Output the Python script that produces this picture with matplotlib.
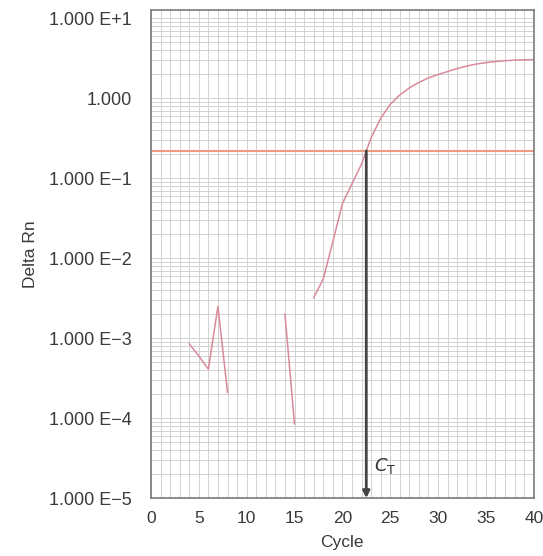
import matplotlib
matplotlib.use("Agg")
import matplotlib.pyplot as plt
from matplotlib.ticker import FixedLocator, LogLocator, NullFormatter

plt.rcParams['font.family'] = ['Liberation Sans', 'DejaVu Sans']

# Data
seg1_cycles = [4, 5, 6, 7, 8]
seg1_values = [8.5e-4, 6.0e-4, 4.1e-4, 2.5e-3, 2.1e-4]
seg2_cycles = [14, 15]
seg2_values = [2.0e-3, 8.5e-5]
seg3_cycles = [17, 18, 19, 20, 21, 22, 23, 24, 25, 26, 27, 28, 29, 30, 31, 32, 33, 34, 35, 36, 37, 38, 39, 40]
seg3_values = [3.2e-3, 5.5e-3, 0.016, 0.048, 0.085, 0.15, 0.32, 0.56, 0.84, 1.1, 1.35, 1.58, 1.8, 1.98, 2.16, 2.36, 2.53, 2.68, 2.79, 2.88, 2.95, 3.0, 3.03, 3.05]
threshold = 0.22
ct_cycle = 22.5
x_ticks = [0, 5, 10, 15, 20, 25, 30, 35, 40]
y_ticks = [1e1, 1e0, 1e-1, 1e-2, 1e-3, 1e-4, 1e-5]
y_tick_labels = ["1.000 E+1", "1.000", "1.000 E\u22121", "1.000 E\u22122",
                 "1.000 E\u22123", "1.000 E\u22124", "1.000 E\u22125"]

fig = plt.figure(figsize=(5.43, 5.56), dpi=100)
ax = fig.add_axes([0.278, 0.104, 0.705, 0.878])
ax.set_yscale('log')
ax.set_xlim(0, 40)
ax.set_ylim(1e-5, 12.7)

# grid
ax.xaxis.set_minor_locator(FixedLocator(list(range(0, 41))))
ax.yaxis.set_minor_locator(LogLocator(base=10, subs=range(2, 10)))
ax.yaxis.set_minor_formatter(NullFormatter())
ax.grid(True, which='both', color='#d2d2d2', linewidth=0.7)
ax.set_axisbelow(True)

curve_color = '#d98a9a'
ax.plot(seg1_cycles, seg1_values, color=curve_color, lw=1.1)
ax.plot(seg2_cycles, seg2_values, color=curve_color, lw=1.1)
ax.plot(seg3_cycles, seg3_values, color=curve_color, lw=1.1)

ax.axhline(threshold, color='#eb9a80', lw=1.5)

ax.annotate('', xy=(ct_cycle, 1.0e-5), xytext=(ct_cycle, threshold),
            arrowprops=dict(arrowstyle='-|>', color='#444444', lw=2,
                            mutation_scale=10, shrinkA=0, shrinkB=0))
ax.text(ct_cycle + 0.8, 2.2e-5, r'$C_{\mathrm{T}}$', fontsize=13, color='#333333')

ax.set_xticks(x_ticks)
ax.set_xticklabels([str(t) for t in x_ticks])
ax.set_yticks(y_ticks)
ax.set_yticklabels(y_tick_labels)
ax.tick_params(axis='both', which='both', length=0, colors='#3a3a3a')
ax.tick_params(axis='y', pad=14, labelsize=13)
ax.tick_params(axis='x', pad=9, labelsize=12.5)

for s in ax.spines.values():
    s.set_color('#7a7a7a')
    s.set_linewidth(1.2)

ax.set_xlabel('Cycle', fontsize=12.5, color='#3a3a3a', labelpad=7)
ax.set_ylabel('Delta Rn', fontsize=12.5, color='#3a3a3a', labelpad=8)

fig.savefig('out.png', dpi=100)
